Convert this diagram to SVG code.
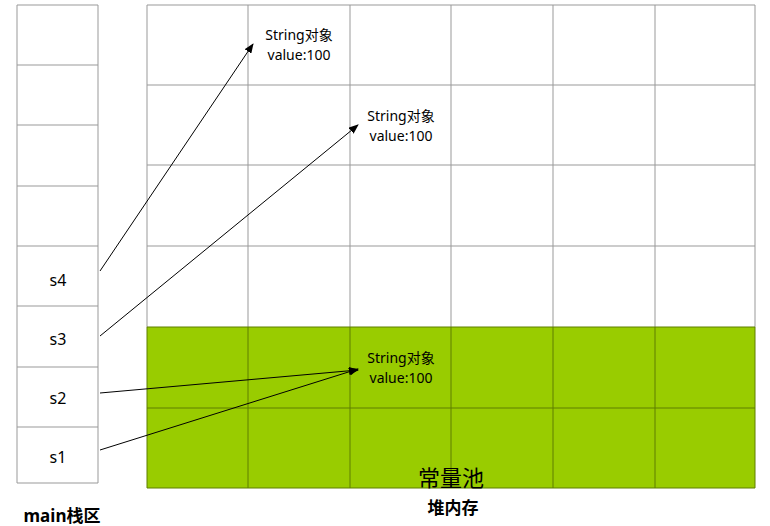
<svg xmlns="http://www.w3.org/2000/svg" width="770" height="526" viewBox="0 0 770 526">
<style>
text{font-family:"Noto Sans","Noto Sans CJK SC",sans-serif;fill:#000;text-anchor:middle}
.g{stroke:#999;stroke-width:1;fill:none}
.gd{stroke:#5f7f00;stroke-width:1;fill:none}
.obj{font-size:14px}
.sv{font-size:16px}
.b{font-weight:bold;font-size:17px}
.c{stroke:#000;stroke-width:1;fill:none;marker-end:url(#ah)}
</style>
<defs>
<marker id="ah" markerWidth="10" markerHeight="8" refX="9" refY="4" orient="auto" markerUnits="userSpaceOnUse">
<path d="M0,0 L10,4 L0,8 Z" fill="#000"/>
</marker>
</defs>
<rect width="770" height="526" fill="#fff"/>
<g id="heap">
<rect x="147" y="327" width="608" height="161" fill="#99cc00"/>
<path class="g" d="M147,5H755M147,85H755M147,165H755M147,246H755M147,5V327M248,5V327M350,5V327M451,5V327M553,5V327M655,5V327M755,5V327"/>
<path class="gd" d="M147,327H755M147,408H755M147,488H755M147,327V488M248,327V488M350,327V488M451,327V488M553,327V488M655,327V488M755,327V488"/>
<text x="451" y="486" style="font-size:22px">常量池</text>
<text class="b" x="453" y="514">堆内存</text>
</g>
<g id="stack">
<path class="g" d="M17,5H98M17,65H98M17,125H98M17,186H98M17,246H98M17,306H98M17,367H98M17,427H98M17,483H98M17,5V483M98,5V483"/>
<text class="b" x="62" y="522">main栈区</text>
</g>
<g id="s4"><text class="sv" x="58" y="286">s4</text></g>
<g id="s3"><text class="sv" x="58" y="345">s3</text></g>
<g id="s2"><text class="sv" x="58" y="404">s2</text></g>
<g id="s1"><text class="sv" x="58" y="463">s1</text></g>
<g id="obj1"><text class="obj" x="299" y="40">String对象</text><text class="obj" x="299" y="60">value:100</text></g>
<g id="obj2"><text class="obj" x="401" y="121">String对象</text><text class="obj" x="401" y="141">value:100</text></g>
<g id="obj3"><text class="obj" x="401" y="363">String对象</text><text class="obj" x="401" y="383">value:100</text></g>
<g id="connectors">
<line class="c" x1="100" y1="271" x2="253" y2="44"/>
<line class="c" x1="100" y1="336" x2="358" y2="125"/>
<line class="c" x1="100" y1="393" x2="358" y2="370"/>
<line class="c" x1="100" y1="450" x2="358" y2="369"/>
</g>
</svg>
